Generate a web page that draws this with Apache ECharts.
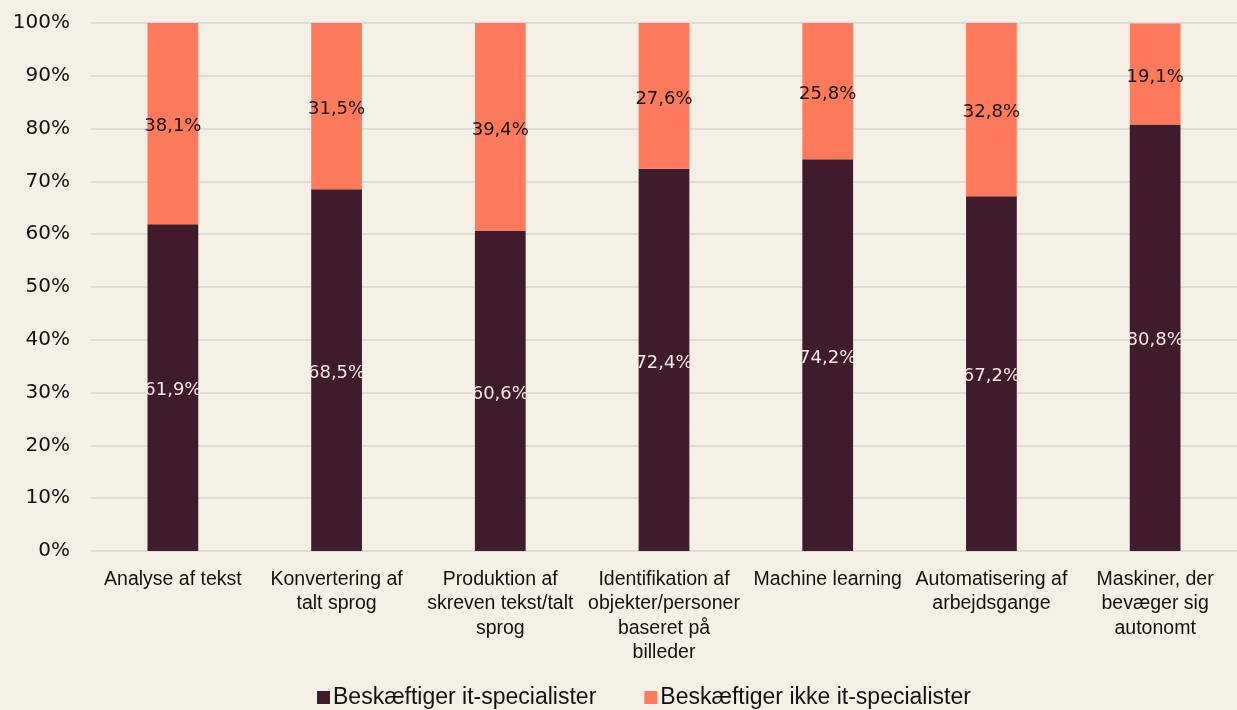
<!DOCTYPE html>
<html>
<head>
<meta charset="utf-8">
<script src="https://cdn.jsdelivr.net/npm/echarts@6/dist/echarts.min.js"></script>
<style>
  html, body { margin: 0; padding: 0; background: #F5F0E6; }
  #chart { width: 1237px; height: 710px; }
</style>
</head>
<body>
<div id="chart"></div>
<script>
// Kategorier (AI-anvendelser)
const categories = [
  'Analyse af tekst',
  'Konvertering af\ntalt sprog',
  'Produktion af\nskreven tekst/talt\nsprog',
  'Identifikation af\nobjekter/personer\nbaseret på\nbilleder',
  'Machine learning',
  'Automatisering af\narbejdsgange',
  'Maskiner, der\nbevæger sig\nautonomt'
];

// Andele i procent
const medItSpecialister = [61.9, 68.5, 60.6, 72.4, 74.2, 67.2, 80.8];
const udenItSpecialister = [38.1, 31.5, 39.4, 27.6, 25.8, 32.8, 19.1];

const seriesNames = ['Beskæftiger it-specialister', 'Beskæftiger ikke it-specialister'];

const fmt = v => v.toFixed(1).replace('.', ',') + '%';

const chart = echarts.init(document.getElementById('chart'), null, { renderer: 'canvas' });

chart.setOption({
  backgroundColor: '#F5F0E6',
  animation: false,
  grid: { left: 91, right: -8, top: 23, bottom: 159, containLabel: false },
  legend: {
    data: seriesNames,
    bottom: -4,
    left: 312,
    itemWidth: 13,
    itemHeight: 13,
    itemGap: 48,
    icon: 'rect',
    textStyle: { fontFamily: 'Liberation Sans', fontSize: 23, color: '#111', padding: [0, 0, 0, -2] }
  },
  xAxis: {
    type: 'category',
    data: categories,
    axisLine: { show: false },
    axisTick: { show: false },
    axisLabel: {
      interval: 0,
      margin: 16,
      fontFamily: 'Liberation Sans',
      fontSize: 19.5,
      lineHeight: 24.5,
      color: '#111'
    }
  },
  yAxis: {
    type: 'value',
    min: 0,
    max: 100,
    interval: 10,
    axisLine: { show: false },
    axisTick: { show: false },
    splitLine: { lineStyle: { color: '#DEDBD9', width: 2 } },
    axisLabel: {
      margin: 21,
      fontFamily: 'DejaVu Sans',
      fontSize: 20,
      color: '#111',
      formatter: v => v + '%'
    }
  },
  series: [
    {
      name: seriesNames[0],
      type: 'bar',
      stack: 'total',
      barWidth: '31%',
      data: medItSpecialister,
      itemStyle: { color: '#401B2B' },
      label: {
        show: true,
        position: 'inside',
        offset: [0, 3],
        fontFamily: 'DejaVu Sans',
        fontSize: 18,
        color: '#F2E9E4',
        formatter: p => fmt(p.value)
      }
    },
    {
      name: seriesNames[1],
      type: 'bar',
      stack: 'total',
      barWidth: '31%',
      data: udenItSpecialister,
      itemStyle: { color: '#FF7A5A' },
      label: {
        show: true,
        position: 'inside',
        offset: [0, 3],
        fontFamily: 'DejaVu Sans',
        fontSize: 18,
        color: '#111',
        formatter: p => fmt(p.value)
      }
    }
  ]
});
</script>
</body>
</html>
